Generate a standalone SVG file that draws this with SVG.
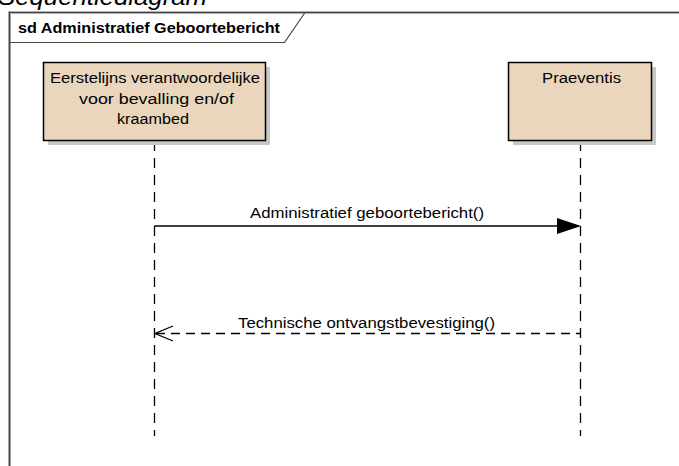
<svg xmlns="http://www.w3.org/2000/svg" width="679" height="466" viewBox="0 0 679 466">
<style>
.t{font-family:"Liberation Sans",Arial,sans-serif;font-size:14px;fill:#000}
.box{fill:#E9D6BD;stroke:#000;stroke-width:1.5}
.sh{fill:#C8C8C8}
.life{stroke:#000;stroke-width:1.3;stroke-dasharray:10 7;fill:none}
</style>
<rect width="679" height="466" fill="#fff"/>
<text x="-2" y="5" font-family="'Liberation Sans',Arial,sans-serif" font-size="24" font-style="italic" fill="#000" textLength="209" lengthAdjust="spacingAndGlyphs">Sequentiediagram</text>
<g id="frame">
<path d="M9.5,466 V12.5 H679" fill="none" stroke="#B0B0B0" stroke-width="3"/>
<path d="M9.5,466 V12.5 H679" fill="none" stroke="#444" stroke-width="1.2"/>
<path d="M9.5,42.5 H284.5 L305,12.5" fill="none" stroke="#444" stroke-width="1.2"/>
<text x="18" y="33" font-family="'Liberation Sans',Arial,sans-serif" font-size="14" font-weight="bold" textLength="262" lengthAdjust="spacingAndGlyphs">sd Administratief Geboortebericht</text>
</g>
<g id="connectors">
<line class="life" x1="154.5" y1="141" x2="154.5" y2="436"/>
<line class="life" x1="580.5" y1="141" x2="580.5" y2="436"/>
<line x1="154.5" y1="226" x2="560" y2="226" stroke="#000" stroke-width="1.3"/>
<path d="M557,218 L581,226 L557,234 Z" fill="#000"/>
<text class="t" x="250" y="218" textLength="234" lengthAdjust="spacingAndGlyphs">Administratief geboortebericht()</text>
<line x1="156" y1="333.5" x2="580.5" y2="333.5" stroke="#000" stroke-width="1.3" stroke-dasharray="9 6"/>
<path d="M173,326 L155,333.5 L173,341" fill="none" stroke="#000" stroke-width="1.3"/>
<text class="t" x="238" y="328" textLength="257" lengthAdjust="spacingAndGlyphs">Technische ontvangstbevestiging()</text>
</g>
<g id="node-eerstelijns">
<rect class="sh" x="48" y="67" width="222" height="78"/>
<rect class="box" x="43.5" y="62.5" width="222" height="78"/>
<text class="t" x="50" y="83" textLength="210" lengthAdjust="spacingAndGlyphs">Eerstelijns verantwoordelijke</text>
<text class="t" x="79" y="104" textLength="155" lengthAdjust="spacingAndGlyphs">voor bevalling en/of</text>
<text class="t" x="117" y="124" textLength="72" lengthAdjust="spacingAndGlyphs">kraambed</text>
</g>
<g id="node-praeventis">
<rect class="sh" x="513" y="67" width="143" height="78"/>
<rect class="box" x="508.5" y="62.5" width="143" height="78"/>
<text class="t" x="542" y="83" textLength="79" lengthAdjust="spacingAndGlyphs">Praeventis</text>
</g>
</svg>
